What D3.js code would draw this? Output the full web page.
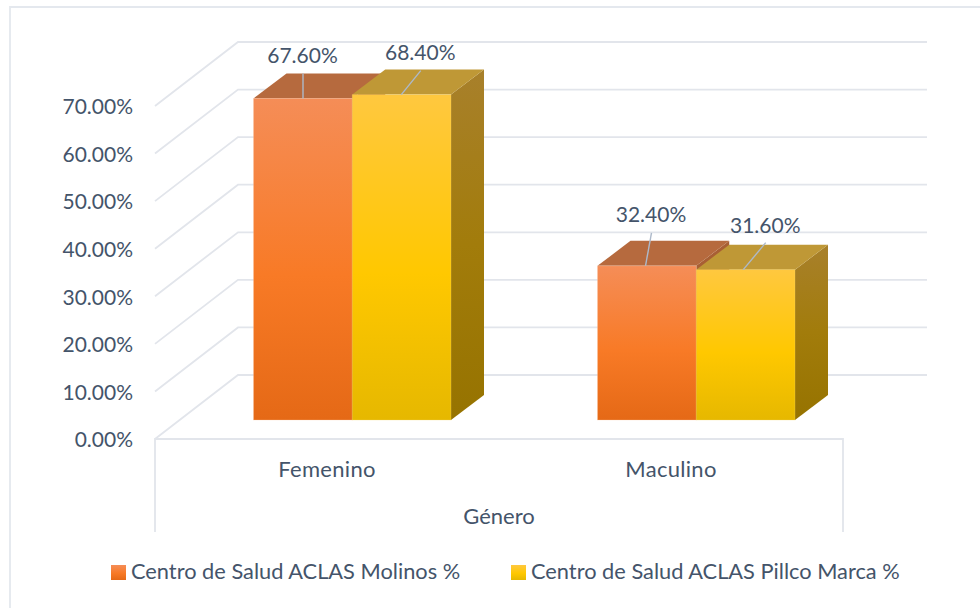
<!DOCTYPE html>
<html>
<head>
<meta charset="utf-8">
<script src="https://d3js.org/d3.v7.min.js"></script>
<style>
  html, body { margin: 0; padding: 0; background: #fff; }
  text { font-family: Lato, "Open Sans", sans-serif; fill: #44546A; }
</style>
</head>
<body>
<script>
// chart data
const categories = ["Femenino", "Maculino"];
const seriesNames = ["Centro de Salud ACLAS Molinos %", "Centro de Salud ACLAS Pillco Marca %"];
const molinos = [67.6, 32.4];
const pillcoMarca = [68.4, 31.6];
const yTicks = [0, 10, 20, 30, 40, 50, 60, 70];

// SVG size
const width = 980;
const height = 608;

const svg = d3.select("body")
    .append("svg")
    .attr("width", width)
    .attr("height", height)
    .style("display", "block");

// outer frame, only the top and left edges
svg.append("path")
    .attr("d", "M10,608V7H980")
    .attr("fill", "none")
    .attr("stroke", "#E4E8EE")
    .attr("stroke-width", 1.8);

// gradients for the bar faces
const defs = svg.append("defs");
function addGradient(id, stops, x2, y2) {
    const g = defs.append("linearGradient")
        .attr("id", id)
        .attr("x1", 0).attr("y1", 0)
        .attr("x2", x2).attr("y2", y2);
    stops.forEach(s => g.append("stop").attr("offset", s[0]).attr("stop-color", s[1]));
}
addGradient("faceOrange", [[0, "#F58D57"], [0.55, "#F87A26"], [1, "#E56916"]], 0, 1);
addGradient("faceYellow", [[0, "#FFC83F"], [0.55, "#FFC800"], [1, "#E6B800"]], 0, 1);
addGradient("sideYellow", [[0, "#A8802B"], [0.5, "#A27C0B"], [1, "#967300"]], 0, 1);

const faces = [
    { front: "url(#faceOrange)", top: "#B66A3E", side: "#A85F34", edge: "#F8C9A8" },
    { front: "url(#faceYellow)", top: "#BF9836", side: "url(#sideYellow)", edge: "#F5D76E" }
];

// depth of the 3D box: walls and bars
const wallDx = 83, wallDy = -64;
const barDx = 33, barDy = -25;

// value scale on the front edge of the floor
const y = d3.scaleLinear()
    .domain([0, 70])
    .range([439, 106]);

// category positions along the floor
const x0 = d3.scaleBand()
    .domain(categories)
    .range([155, 843]);
const x1 = d3.scaleBand()
    .domain([0, 1])
    .range([0, 197.5]);
const barOffset = 98.5;
const barBase = 420;
const barHeight = v => y(0) - y(v);

// wall and floor gridlines
const gridColor = "#E2E5EB";
const right = 927;
yTicks.forEach(t => {
    const yf = y(t);
    svg.append("path")
        .attr("d", `M155,${yf}L${155 + wallDx},${yf + wallDy}L${right},${yf + wallDy}`)
        .attr("fill", "none")
        .attr("stroke", gridColor)
        .attr("stroke-width", 1.8);
});

// category axis lines
svg.append("path")
    .attr("d", `M155,532V${y(0)}H843V532`)
    .attr("fill", "none")
    .attr("stroke", gridColor)
    .attr("stroke-width", 1.8);

// Y axis
const yAxis = d3.axisLeft(y)
    .tickValues(yTicks)
    .tickSize(0)
    .tickPadding(0)
    .tickFormat(d => d3.format(".2f")(d) + "%");

const yG = svg.append("g")
    .attr("transform", "translate(133,1)")
    .call(yAxis);
yG.select(".domain").remove();
yG.selectAll("text").style("font-size", "21px");

// flatten into one record per bar
const bars = [];
categories.forEach((c, i) => {
    [molinos, pillcoMarca].forEach((vals, s) => {
        bars.push({ cat: c, s: s, v: vals[i] });
    });
});
const xLeft = d => x0(d.cat) + barOffset + x1(d.s);
const w = x1.bandwidth();
const yTop = d => barBase - barHeight(d.v);

const barG = svg.selectAll("g.bar")
    .data(bars)
    .enter()
    .append("g")
    .attr("class", "bar");

// side face
barG.append("path")
    .attr("d", d => {
        const r = xLeft(d) + w;
        return `M${r},${yTop(d)}l${barDx},${barDy}V${barBase + barDy}l${-barDx},${-barDy}Z`;
    })
    .attr("fill", d => faces[d.s].side);

// top face
barG.append("path")
    .attr("d", d => `M${xLeft(d)},${yTop(d)}l${barDx},${barDy}h${w}l${-barDx},${-barDy}Z`)
    .attr("fill", d => faces[d.s].top);

// front face
barG.append("rect")
    .attr("x", xLeft)
    .attr("y", yTop)
    .attr("width", w)
    .attr("height", d => barHeight(d.v))
    .attr("fill", d => faces[d.s].front)
    .attr("stroke", d => faces[d.s].edge)
    .attr("stroke-width", 0.8)
    .attr("stroke-opacity", 0.35);

// second series goes in front of the first one's side face
svg.selectAll("g.bar").filter(d => d.s === 1).raise();

// leader lines and value labels, offsets from each bar's top left corner
const labelOffsets = [
    { lineX0: 49.5, lineX1: 49.5, lineY1: -25, textX: 49, textY: -35 },
    { lineX0: 49, lineX1: 68.5, lineY1: -24, textX: 68, textY: -35 },
    { lineX0: 48, lineX1: 54, lineY1: -33, textX: 53.5, textY: -44 },
    { lineX0: 47, lineX1: 69.5, lineY1: -27, textX: 69, textY: -37 }
];
bars.forEach((d, i) => {
    const o = labelOffsets[i];
    svg.append("line")
        .attr("x1", xLeft(d) + o.lineX0)
        .attr("y1", yTop(d))
        .attr("x2", xLeft(d) + o.lineX1)
        .attr("y2", yTop(d) + o.lineY1)
        .attr("stroke", "#ADB9CA")
        .attr("stroke-width", 1.4);
    svg.append("text")
        .attr("x", xLeft(d) + o.textX)
        .attr("y", yTop(d) + o.textY)
        .attr("text-anchor", "middle")
        .style("font-size", "21px")
        .text(d3.format(".2f")(d.v) + "%");
});

// category labels
svg.selectAll("text.cat")
    .data(categories)
    .enter()
    .append("text")
    .attr("class", "cat")
    .attr("x", c => x0(c) + x0.bandwidth() / 2)
    .attr("y", 477)
    .attr("text-anchor", "middle")
    .style("font-size", "22px")
    .style("letter-spacing", "0.3px")
    .text(c => c);

// axis title
svg.append("text")
    .attr("x", 499)
    .attr("y", 524)
    .attr("text-anchor", "middle")
    .style("font-size", "22px")
    .text("Género");

// legend
const legendX = [111, 511];
seriesNames.forEach((name, i) => {
    svg.append("rect")
        .attr("x", legendX[i])
        .attr("y", 565)
        .attr("width", 15)
        .attr("height", 15)
        .attr("fill", faces[i].front);
    svg.append("text")
        .attr("x", legendX[i] + 20)
        .attr("y", 579)
        .style("font-size", "21.8px")
        .text(name);
});
</script>
</body>
</html>
